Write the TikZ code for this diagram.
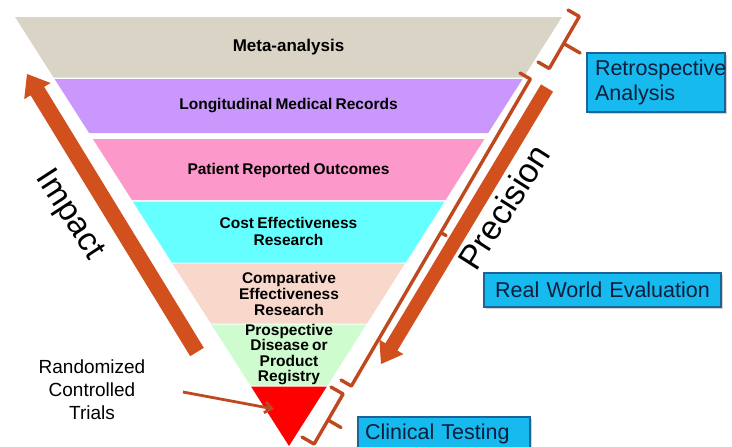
\documentclass[tikz,border=0pt]{standalone}
\usepackage{fontspec}
\setmainfont{Liberation Sans}[WordSpace=0.75]
\usetikzlibrary{calc,arrows.meta,shadows}
\definecolor{cMeta}{RGB}{218,212,198}
\definecolor{cLong}{RGB}{202,152,252}
\definecolor{cPat}{RGB}{252,152,202}
\definecolor{cCost}{RGB}{102,255,255}
\definecolor{cComp}{RGB}{249,216,204}
\definecolor{cProsp}{RGB}{206,252,206}
\definecolor{cRed}{RGB}{255,0,0}
\definecolor{cArrow}{RGB}{210,80,30}
\definecolor{cBrace}{RGB}{192,72,30}
\definecolor{cBox}{RGB}{22,186,238}
\definecolor{cBoxLine}{RGB}{28,100,150}
\definecolor{cBoxText}{RGB}{12,30,60}
\newcommand{\mybrace}[5]{%
  \coordinate (bm) at ($(#1)!#3!(#2)$);
  \draw[bracestyle] (#1) -- ($(#1)!#4!90:(#2)$) -- ($(bm)!#4!90:(#2)$)
    -- ($(bm)!#4+#5!90:(#2)$) -- ($(bm)!#4!90:(#2)$)
    -- ($(#2)!#4!-90:(#1)$) -- (#2);}
\tikzset{
  bandlabel/.style={align=center, text=black, inner sep=0pt,
    font=\fontsize{15.5}{16}\selectfont\bfseries},
  infobox/.style={draw=cBoxLine, line width=1.2pt, fill=cBox, text=cBoxText,
    font=\fontsize{21.5}{25}\selectfont, inner xsep=8pt,
    drop shadow={shadow xshift=1.5pt, shadow yshift=-1.5pt, fill=black!35}},
  bracestyle/.style={draw=cBrace, line width=3.4pt, line join=round, line cap=round},
  bigarrow/.style={fill=cArrow},
  rctarrow/.style={draw=cBrace, line width=2.8pt, -{Straight Barb[length=7pt,width=11pt]}},
  sidetext/.style={font=\fontsize{33}{38}\selectfont, text=black, inner sep=0pt}
}
\begin{document}
\begin{tikzpicture}[x=1pt,y=-1pt]
\useasboundingbox (0,0) rectangle (732,447);
\clip (0,0) rectangle (732,447);
\fill[white] (0,0) rectangle (732,447);
% bands of the inverted pyramid
\fill[cMeta]  (15,17) -- (562,17) -- (523.5,77.5) -- (53.6,77.5) -- cycle;
\fill[cLong]  (54.6,79) -- (522.6,79) -- (488.2,133) -- (89.1,133) -- cycle;
\fill[cPat]   (92.9,139) -- (484.4,139) -- (445.6,200) -- (131.9,200) -- cycle;
\fill[cCost]  (132.8,201.5) -- (444.6,201.5) -- (405.8,262.5) -- (171.8,262.5) -- cycle;
\fill[cComp]  (172.4,263.5) -- (405.1,263.5) -- (367,323.5) -- (210.8,323.5) -- cycle;
\fill[cProsp] (211.4,324.5) -- (366.3,324.5) -- (327.5,385.5) -- (250.4,385.5) -- cycle;
\fill[cRed]   (251,386.5) -- (326.9,386.5) -- (289,446) -- cycle;
% labels
\node[bandlabel, font=\fontsize{17}{18}\selectfont\bfseries] (meta) at (288.5,47.5) {Meta-analysis};
\node[bandlabel] (long) at (288.5,106) {Longitudinal Medical Records};
\node[bandlabel] (pat) at (288.5,170) {Patient Reported Outcomes};
\node[bandlabel, font=\fontsize{15.5}{17}\selectfont\bfseries] (cost) at (288.5,231.5) {Cost Effectiveness\\Research};
\node[bandlabel] (comp) at (289,293.5) {Comparative\\Effectiveness\\Research};
\node[bandlabel, font=\fontsize{15.5}{15.3}\selectfont\bfseries] (prosp) at (289,354.5) {Prospective\\Disease or\\Product\\Registry};
% Impact arrow
\fill[bigarrow] (203.8,347.8) -- (44.2,86.9) -- (50.6,83.0) -- (27,74) -- (24.2,99.2) -- (30.6,95.3) -- (190.2,356.2) -- cycle;
\node[sidetext, rotate=-57] (impact) at (69,215) {Impact};
% Precision arrow
\fill[bigarrow] (541,84.4) -- (385.4,343.3) -- (379.4,339.6) -- (381,364) -- (403.4,354.2) -- (397.4,350.5) -- (553,91.6) -- cycle;
\node[sidetext, font=\fontsize{34}{38}\selectfont, rotate=57.5] (precision) at (504,207) {Precision};
% braces
\coordinate (b1a) at (568,10);  \coordinate (b1b) at (538,62);
\coordinate (b2a) at (520,73);  \coordinate (b2b) at (341,380);
\coordinate (b3a) at (331,387); \coordinate (b3b) at (302,437);
\mybrace{b1a}{b1b}{0.52}{13pt}{19pt}
\mybrace{b2a}{b2b}{0.5}{12pt}{6pt}
\mybrace{b3a}{b3b}{0.52}{14pt}{15pt}
% boxes
\node[infobox, text width=122pt, align=left, minimum height=59pt] (retro) at (656,82.5) {Retrospective\\Analysis};
\node[infobox, text width=221pt, align=center, minimum height=34pt, inner ysep=2pt] (rwe) at (602.5,290) {Real World Evaluation};
\node[infobox, text width=158pt, inner xsep=7pt, align=left, minimum height=34pt, inner ysep=2pt] (clin) at (444,434) {Clinical Testing};
% RCT
\node[align=center, font=\fontsize{19}{23}\selectfont, text=black] (rct) at (92,390) {Randomized\\Controlled\\Trials};
\coordinate (rctS) at (183,392);
\coordinate (rctE) at (274,409);
\draw[rctarrow] (rctS) -- (rctE);
\end{tikzpicture}
\end{document}
